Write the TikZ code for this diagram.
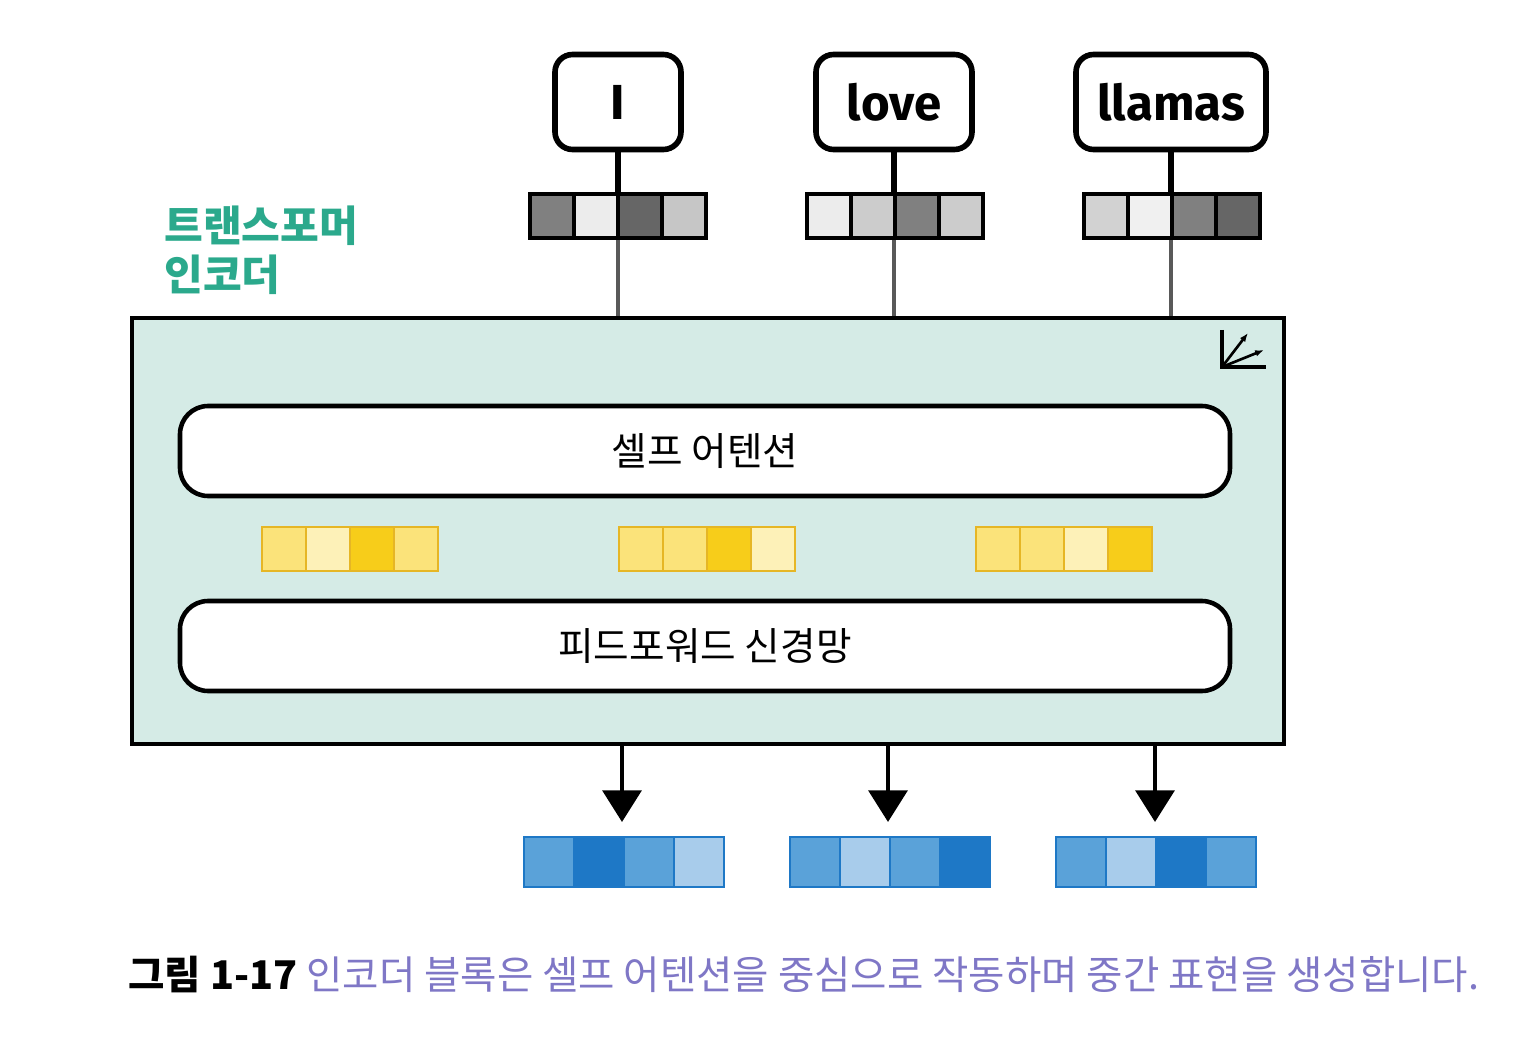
\documentclass[tikz,border=0pt]{standalone}
\usepackage{fontspec}
\setmainfont{Noto Sans CJK KR}
\newfontfamily\tok{Fira Sans Condensed}[BoldFont={Fira Sans Bold}]
\newfontfamily\krb{Noto Sans CJK KR}
\usetikzlibrary{arrows.meta}
\definecolor{teal1}{HTML}{2BA98C}
\definecolor{blockbg}{HTML}{D5EBE6}
\definecolor{yA}{HTML}{FBE37A}
\definecolor{yB}{HTML}{FDF1B8}
\definecolor{yC}{HTML}{F7CD1A}
\definecolor{bA}{HTML}{5AA2D9}
\definecolor{bB}{HTML}{1E78C6}
\definecolor{bC}{HTML}{A8CCEB}
\definecolor{cap}{HTML}{7F77C6}
\begin{document}
\begin{tikzpicture}[x=0.02cm,y=-0.02cm,
  tokbox/.style={draw,line width=3.2pt,rounded corners=10pt,fill=white},
  inner/.style={draw,line width=2.6pt,rounded corners=16pt,fill=white,minimum width=1050*0.02cm,minimum height=90*0.02cm,font=\fontsize{22}{24}\selectfont},
  cellg/.style={draw=black,line width=1.8pt},
  celly/.style={draw=yC!70!brown,line width=1.5pt},
  cellb/.style={draw=bB,line width=1.5pt},
  arr/.style={line width=2.5pt,-{Triangle[length=18pt,width=22pt]}}]
\useasboundingbox (0,0) rectangle (1536,1054);
% token boxes
\node[tokbox,minimum width=126*0.02cm,minimum height=95*0.02cm] (t1) at (618,102) {\tok\bfseries\fontsize{28}{30}\selectfont I};
\node[tokbox,minimum width=156*0.02cm,minimum height=95*0.02cm] (t2) at (894,102) {\tok\bfseries\fontsize{28}{30}\selectfont love};
\node[tokbox,minimum width=190*0.02cm,minimum height=95*0.02cm] (t3) at (1171,102) {\tok\bfseries\fontsize{28}{30}\selectfont llamas};
% block
\node[draw,line width=2.2pt,fill=blockbg,minimum width=1152*0.02cm,minimum height=426*0.02cm,anchor=north west] (blk) at (130,316) {};
\coordinate (b1) at (618,316); \coordinate (b2) at (894,316); \coordinate (b3) at (1171,316);
\draw[line width=2.5pt,gray!70!black] (t1.south) -- (b1);
\draw[line width=2.5pt,gray!70!black] (t2.south) -- (b2);
\draw[line width=2.5pt,gray!70!black] (t3.south) -- (b3);
\draw[line width=3pt] (t1.south) -- (618,192);
\draw[line width=3pt] (t2.south) -- (894,192);
\draw[line width=3pt] (t3.south) -- (1171,192);
% gray vectors
\foreach \x/\ca/\cb/\cc/\cd in {530/gray/gray!15/gray!80!black/gray!45, 807/gray!15/gray!40/gray/gray!40, 1084/gray!35/gray!12/gray/gray!80!black}{
  \foreach \i/\c in {0/\ca,1/\cb,2/\cc,3/\cd}
    \fill[\c] (\x+\i*44,194) rectangle ++(44,44);
  \foreach \i in {0,1,2,3} \draw[cellg] (\x+\i*44,194) rectangle ++(44,44);
}
\node[font=\krb\bfseries\fontsize{24}{26}\selectfont,text=teal1,anchor=west,align=left] (lbl) at (158,250) {트랜스포머\\[2pt]인코더};
% icon
\draw[line width=2pt] (1222,330) -- (1222,367) -- (1266,367);
\draw[line width=1.5pt,-{Latex[length=5pt]}] (1222,367) -- (1248,333);
\draw[line width=1.5pt,-{Latex[length=5pt]}] (1222,367) -- (1264,350);
% inner boxes
\node[inner] (sa) at (705,451) {셀프 어텐션};
\node[inner] (ff) at (705,646) {피드포워드 신경망};
% yellow vectors
\foreach \x/\ca/\cb/\cc/\cd in {262/yA/yB/yC/yA, 619/yA/yA/yC/yB, 976/yA/yA/yB/yC}{
  \foreach \i/\c in {0/\ca,1/\cb,2/\cc,3/\cd}
    \fill[\c] (\x+\i*44,527) rectangle ++(44,44);
  \foreach \i in {0,1,2,3} \draw[celly] (\x+\i*44,527) rectangle ++(44,44);
}
% arrows
\coordinate (o1) at (622,822); \coordinate (o2) at (888,822); \coordinate (o3) at (1155,822);
\draw[arr] (622,742) -- (o1);
\draw[arr] (888,742) -- (o2);
\draw[arr] (1155,742) -- (o3);
% blue vectors
\foreach \x/\ca/\cb/\cc/\cd in {524/bA/bB/bA/bC, 790/bA/bC/bA/bB, 1056/bA/bC/bB/bA}{
  \foreach \i/\c in {0/\ca,1/\cb,2/\cc,3/\cd}
    \fill[\c] (\x+\i*50,837) rectangle ++(50,50);
  \foreach \i in {0,1,2,3} \draw[cellb] (\x+\i*50,837) rectangle ++(50,50);
}
% caption
\node[anchor=west,font=\fontsize{22.5}{24}\selectfont,inner sep=0] (cap) at (128,975) {{\bfseries 그림 1-17} \textcolor{cap}{인코더 블록은 셀프 어텐션을 중심으로 작동하며 중간 표현을 생성합니다.}};
\end{tikzpicture}
\end{document}
